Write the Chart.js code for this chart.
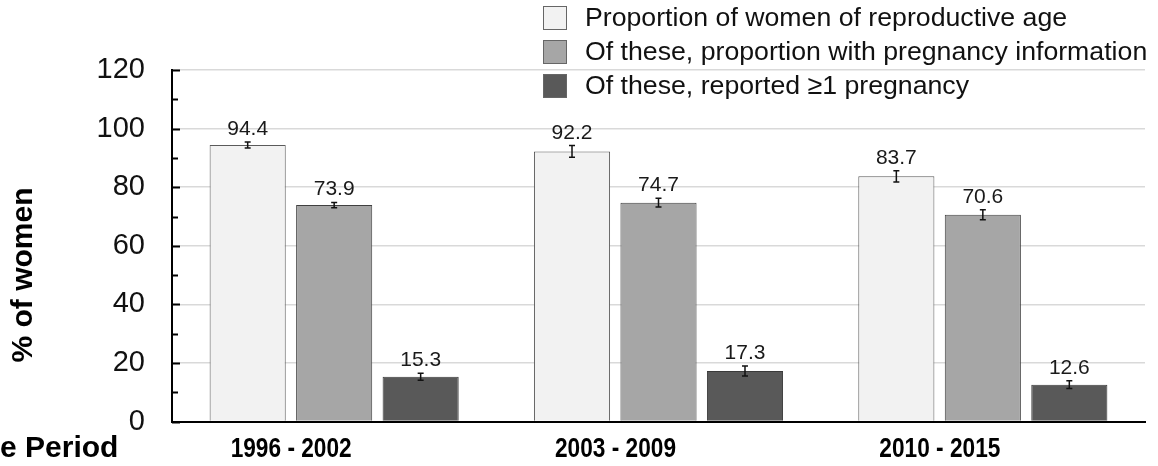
<!DOCTYPE html>
<html>
<head>
<meta charset="utf-8">
<script src="https://cdn.jsdelivr.net/npm/chart.js@4"></script>
<style>
  body { margin: 0; background: #fff; }
  #wrap { width: 1158px; height: 466px; position: relative; }
</style>
</head>
<body>
<div id="wrap"><canvas id="chart"></canvas></div>
<script>
const categories = ['1996 - 2002', '2003 - 2009', '2010 - 2015'];
const seriesLabels = [
    'Proportion of women of reproductive age',
    'Of these, proportion with pregnancy information',
    'Of these, reported \u22651 pregnancy'
];
const reproductiveAge = [94.4, 92.2, 83.7];
const withPregnancyInfo = [73.9, 74.7, 70.6];
const reportedPregnancy = [15.3, 17.3, 12.6];
// half-widths of the error bars
const reproductiveAgeErr = [1.0, 2.0, 1.9];
const withPregnancyInfoErr = [0.9, 1.5, 1.7];
const reportedPregnancyErr = [1.2, 1.7, 1.3];
const yMajorTicks = [0, 20, 40, 60, 80, 100, 120];
const yTitle = '% of women';
const xTitle = 'e Period';

const FONT = '"Liberation Sans", Arial, sans-serif';
const errors = [reproductiveAgeErr, withPregnancyInfoErr, reportedPregnancyErr];

// error bars + value labels above each bar
const barExtras = {
    id: 'barExtras',
    afterDatasetsDraw(chart) {
        const { ctx, scales: { y } } = chart;
        ctx.save();
        chart.data.datasets.forEach((ds, i) => {
            const meta = chart.getDatasetMeta(i);
            meta.data.forEach((bar, j) => {
                const v = ds.data[j];
                const e = errors[i][j];
                const top = y.getPixelForValue(v + e);
                const bot = y.getPixelForValue(v - e);
                ctx.strokeStyle = '#111';
                ctx.lineWidth = 1.5;
                ctx.beginPath();
                ctx.moveTo(bar.x, top); ctx.lineTo(bar.x, bot);
                ctx.moveTo(bar.x - 3, top); ctx.lineTo(bar.x + 3, top);
                ctx.moveTo(bar.x - 3, bot); ctx.lineTo(bar.x + 3, bot);
                ctx.stroke();
                ctx.fillStyle = '#1a1a1a';
                ctx.font = '21px ' + FONT;
                ctx.textAlign = 'center';
                ctx.textBaseline = 'alphabetic';
                ctx.fillText(v.toFixed(1), bar.x, top - 7);
            });
        });
        ctx.restore();
    }
};

// inward tick marks on the y axis, category labels, titles and the legend box
const decorations = {
    id: 'decorations',
    afterDraw(chart) {
        const { ctx, chartArea, scales: { x, y } } = chart;
        ctx.save();
        ctx.strokeStyle = '#000';
        ctx.lineWidth = 2;
        for (let v = 0; v <= 120; v += 10) {
            const py = Math.round(y.getPixelForValue(v)) + 0.5;
            const len = yMajorTicks.includes(v) ? 8 : 6;
            ctx.beginPath();
            ctx.moveTo(chartArea.left, py);
            ctx.lineTo(chartArea.left + len, py);
            ctx.stroke();
        }

        // category labels: narrow bold, sitting a bit left of each group
        ctx.fillStyle = '#000';
        ctx.font = 'bold 28px ' + FONT;
        ctx.textAlign = 'center';
        ctx.textBaseline = 'middle';
        categories.forEach((lab, i) => {
            ctx.save();
            ctx.translate(x.getPixelForTick(i) - 43, 449);
            ctx.scale(0.81, 1);
            ctx.fillText(lab, 0, 0);
            ctx.restore();
        });

        ctx.font = 'bold 30px ' + FONT;
        ctx.textAlign = 'left';
        ctx.fillText(xTitle, 0, 449);

        ctx.save();
        ctx.translate(24, 275);
        ctx.rotate(-Math.PI / 2);
        ctx.textAlign = 'center';
        ctx.fillText(yTitle, 0, 0);
        ctx.restore();

        chart.data.datasets.forEach((ds, i) => {
            const cy = 18 + i * 34;
            ctx.fillStyle = ds.backgroundColor;
            ctx.fillRect(543, cy - 12, 24, 24);
            ctx.strokeStyle = '#666';
            ctx.lineWidth = 1;
            ctx.strokeRect(543.5, cy - 11.5, 23, 23);
            ctx.fillStyle = '#111';
            ctx.font = '26.7px ' + FONT;
            ctx.textAlign = 'left';
            ctx.textBaseline = 'middle';
            ctx.fillText(ds.label, 585, cy + 1);
        });
        ctx.restore();
    }
};

new Chart(document.getElementById('chart'), {
    type: 'bar',
    data: {
        labels: categories,
        datasets: [
            {
                label: seriesLabels[0],
                data: reproductiveAge,
                backgroundColor: '#f2f2f2',
                borderColor: '#5a5a5a',
                borderWidth: 1
            },
            {
                label: seriesLabels[1],
                data: withPregnancyInfo,
                backgroundColor: '#a6a6a6',
                borderColor: '#404040',
                borderWidth: 1
            },
            {
                label: seriesLabels[2],
                data: reportedPregnancy,
                backgroundColor: '#595959',
                borderColor: '#3a3a3a',
                borderWidth: 1
            }
        ]
    },
    options: {
        responsive: true,
        maintainAspectRatio: false,
        animation: false,
        layout: { padding: { left: 0, right: 13, top: 70, bottom: 0 } },
        datasets: {
            bar: { categoryPercentage: 0.8, barPercentage: 0.88 }
        },
        plugins: {
            legend: { display: false },
            tooltip: { enabled: false }
        },
        scales: {
            x: {
                offset: true,
                grid: { display: false, drawTicks: false },
                border: { display: true, color: '#000', width: 2 },
                ticks: { display: false },
                afterFit(scale) { scale.height = 44; }
            },
            y: {
                min: 0,
                max: 120,
                grid: {
                    drawTicks: false,
                    color: (c) => (c.tick && c.tick.value % 20 === 0) ? '#d9d9d9' : 'transparent',
                    lineWidth: 1.5
                },
                border: { display: true, color: '#000', width: 2 },
                ticks: {
                    stepSize: 10,
                    autoSkip: false,
                    padding: 27,
                    color: '#111',
                    font: { family: FONT, size: 29 },
                    callback: (v) => yMajorTicks.includes(v) ? v : ''
                },
                afterFit(scale) { scale.width = 172; }
            }
        }
    },
    plugins: [barExtras, decorations]
});
</script>
</body>
</html>
